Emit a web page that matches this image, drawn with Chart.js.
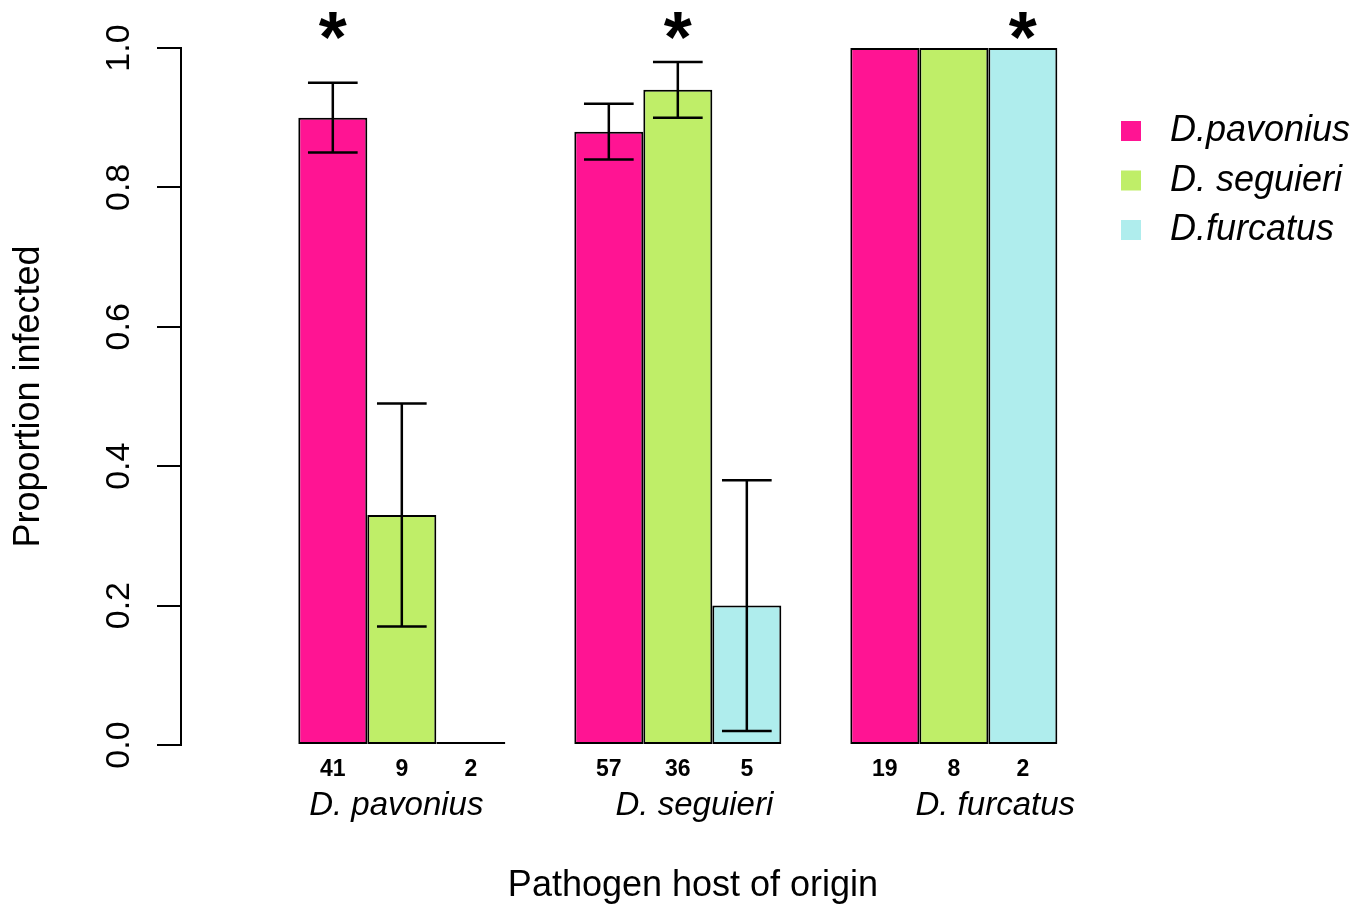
<!DOCTYPE html>
<html><head><meta charset="utf-8">
<script src="https://cdn.jsdelivr.net/npm/chart.js@4"></script>
<style>html,body{margin:0;padding:0;background:#fff;} #wrap{width:1370px;height:910px;}</style>
</head><body><div id="wrap"><canvas id="c" width="1370" height="910"></canvas></div>
<script>
// ---- data ----
const groupNames = ['D. pavonius', 'D. seguieri', 'D. furcatus'];
const seriesNames = ['D.pavonius', 'D. seguieri', 'D.furcatus'];
const pavoniusValues = [0.90, 0.88, 1.00];
const seguieriValues = [0.33, 0.94, 1.00];
const furcatusValues = [0.00, 0.20, 1.00];
const pavoniusLower = [0.85, 0.84, null];
const pavoniusUpper = [0.95, 0.92, null];
const seguieriLower = [0.17, 0.90, null];
const seguieriUpper = [0.49, 0.98, null];
const furcatusLower = [null, 0.02, null];
const furcatusUpper = [null, 0.38, null];
const pavoniusN = [41, 57, 19];
const seguieriN = [9, 36, 8];
const furcatusN = [2, 5, 2];
const significantSeries = [0, 1, 2];
const yTicks = [0, 0.2, 0.4, 0.6, 0.8, 1.0];
const yTitle = 'Proportion infected';
const xTitle = 'Pathogen host of origin';

// ---- layout / styles ----
const FONT = "'Liberation Sans', Arial, Helvetica, sans-serif";
const colors = ['#FF1493', '#BFEE68', '#AFEDED'];
const starLevel = 1.035;
const groupLabelOffsets = [-0.02, 0.06, 0.15]; // label placement relative to group centre (axis units)

function pts(vals) { return vals.map((v, i) => ({x: i, y: v})); }
const seriesValues = [pavoniusValues, seguieriValues, furcatusValues];
const seriesLower = [pavoniusLower, seguieriLower, furcatusLower];
const seriesUpper = [pavoniusUpper, seguieriUpper, furcatusUpper];
const seriesN = [pavoniusN, seguieriN, furcatusN];

const datasets = seriesNames.map((name, s) => ({
  label: name,
  data: pts(seriesValues[s]),
  lower: seriesLower[s],
  upper: seriesUpper[s],
  n: seriesN[s],
  backgroundColor: colors[s],
  borderColor: '#000',
  borderWidth: 2,
  borderSkipped: false,
  minBarLength: 3,
  categoryPercentage: 0.75,
  barPercentage: 1.0
}));

const extras = {
  id: 'extras',
  afterDatasetsDraw(chart) {
    const ctx = chart.ctx, ys = chart.scales.y;
    ctx.save();
    ctx.strokeStyle = '#000'; ctx.lineWidth = 2.5; ctx.lineCap = 'butt';
    chart.data.datasets.forEach((ds, di) => {
      const meta = chart.getDatasetMeta(di);
      meta.data.forEach((bar, i) => {
        const lo = ds.lower[i], hi = ds.upper[i];
        if (lo == null || hi == null) return;
        const x = bar.x, half = bar.width * 0.36;
        const yl = ys.getPixelForValue(lo), yh = ys.getPixelForValue(hi);
        ctx.beginPath();
        ctx.moveTo(x, yl); ctx.lineTo(x, yh);
        ctx.moveTo(x - half, yl); ctx.lineTo(x + half, yl);
        ctx.moveTo(x - half, yh); ctx.lineTo(x + half, yh);
        ctx.stroke();
      });
    });
    ctx.restore();
  },
  afterDraw(chart) {
    const ctx = chart.ctx, ys = chart.scales.y, area = chart.chartArea;
    ctx.save();
    ctx.fillStyle = '#000';
    // sample sizes
    ctx.font = "bold 23px " + FONT;
    ctx.textAlign = 'center'; ctx.textBaseline = 'middle';
    chart.data.datasets.forEach((ds, di) => {
      const meta = chart.getDatasetMeta(di);
      meta.data.forEach((bar, i) => {
        ctx.fillText(String(ds.n[i]), bar.x, area.bottom + 25);
      });
    });
    // asterisks
    const starSize = 72;
    ctx.font = "bold " + starSize + "px " + FONT;
    ctx.textBaseline = 'alphabetic';
    significantSeries.forEach((s, g) => {
      const bar = chart.getDatasetMeta(s).data[g];
      const yc = ys.getPixelForValue(starLevel);
      ctx.fillText('*', bar.x, yc + 0.54 * starSize);
    });
    // legend
    ctx.font = "italic 36px " + FONT;
    ctx.textAlign = 'left'; ctx.textBaseline = 'middle';
    chart.data.datasets.forEach((ds, di) => {
      const rowY = area.top + 83 + di * 49.5;
      ctx.fillStyle = ds.backgroundColor;
      ctx.fillRect(1121, rowY - 10, 20, 20);
      ctx.fillStyle = '#000';
      ctx.fillText(ds.label, 1170, rowY);
    });
    ctx.restore();
  }
};

new Chart(document.getElementById('c'), {
  type: 'bar',
  data: { datasets },
  options: {
    responsive: false,
    animation: false,
    devicePixelRatio: 1,
    layout: { padding: { left: 0, top: 48, right: 165, bottom: 0 } },
    plugins: { legend: { display: false }, tooltip: { enabled: false } },
    scales: {
      x: {
        type: 'linear',
        offset: false,
        min: -0.8, max: 2.91,
        afterBuildTicks(s) { s.ticks = groupNames.map((_, i) => ({ value: i + groupLabelOffsets[i] })); },
        afterFit(s) { s.height = 165; s.paddingLeft = 0; s.paddingRight = 0; },
        grid: { display: false, drawTicks: false },
        border: { display: false },
        ticks: {
          autoSkip: false, maxRotation: 0, minRotation: 0,
          padding: 41, color: '#000',
          font: { family: FONT, size: 33, style: 'italic' },
          callback: (v, i) => groupNames[i]
        },
        title: {
          display: true, text: xTitle, color: '#000',
          font: { family: FONT, size: 36 },
          padding: { top: 0, bottom: 2 }
        }
      },
      y: {
        min: 0, max: 1,
        afterBuildTicks(s) { s.ticks = yTicks.map(v => ({ value: v })); },
        afterFit(s) { s.width = 181; },
        border: { display: true, color: '#000', width: 2 },
        grid: { drawOnChartArea: false, drawTicks: true, tickLength: 24, color: '#000', lineWidth: 2 },
        ticks: {
          autoSkip: false, minRotation: 90, maxRotation: 90, crossAlign: 'center',
          padding: 14, color: '#000',
          font: { family: FONT, size: 34 },
          callback: (v) => Number(v).toFixed(1)
        },
        title: {
          display: true, text: yTitle, color: '#000',
          font: { family: FONT, size: 36 },
          padding: { top: 7, bottom: 0 }
        }
      }
    }
  },
  plugins: [extras]
});
</script></body></html>
